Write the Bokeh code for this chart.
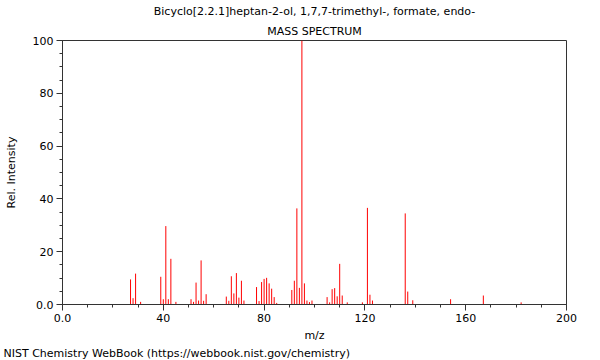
from bokeh.plotting import figure
from bokeh.models import SingleIntervalTicker, Title, Range1d
from bokeh.embed import file_html
from bokeh.resources import INLINE

# m/z values and relative intensities
mz = [27, 28, 29, 31, 39, 40, 41, 42, 43, 45, 51, 52, 53, 54, 55, 56, 57,
      65, 66, 67, 68, 69, 70, 71, 72, 77, 78, 79, 80, 81, 82, 83, 84, 85,
      91, 92, 93, 94, 95, 96, 97, 98, 99, 105, 106, 107, 108, 109, 110, 111,
      113, 119, 121, 122, 123, 136, 137, 139, 154, 167, 182]
intensity = [9.5, 2.4, 11.7, 1.0, 10.5, 2.0, 29.7, 2.0, 17.3, 1.0, 2.0, 1.0, 8.3, 1.5, 16.7, 1.4, 3.9,
             3.0, 1.4, 10.7, 4.2, 11.9, 2.6, 9.0, 1.5, 6.6, 1.3, 8.5, 9.7, 10.1, 8.0, 6.0, 2.8, 0.6,
             5.5, 9.0, 36.4, 6.3, 100.0, 8.0, 1.5, 0.9, 1.5, 2.8, 0.8, 5.8, 6.2, 3.1, 15.4, 3.4,
             0.8, 0.8, 36.6, 3.7, 1.5, 34.5, 4.9, 1.6, 2.0, 3.4, 0.8]
baseline = [0] * len(mz)

title_line1 = "Bicyclo[2.2.1]heptan-2-ol, 1,7,7-trimethyl-, formate, endo-"
title_line2 = "MASS SPECTRUM"
footer = "NIST Chemistry WebBook (https://webbook.nist.gov/chemistry)"
x_label = "m/z"
y_label = "Rel. Intensity"

FONT = "DejaVu Sans"
AX = "#333333"

p = figure(width=600, height=360, output_backend="svg", toolbar_location=None,
           x_range=Range1d(0, 200), y_range=Range1d(0, 100),
           min_border_left=62, min_border_right=34, min_border_top=40, min_border_bottom=56)
p.grid.visible = False
p.outline_line_color = AX
p.outline_line_width = 1
p.background_fill_color = "white"
p.border_fill_color = "white"

p.segment(x0=mz, y0=baseline, x1=mz, y1=intensity, line_color="#ff0000", line_width=1)

for ax in (p.xaxis[0], p.yaxis[0]):
    ax.axis_line_color = AX
    ax.major_tick_line_color = AX
    ax.minor_tick_line_color = AX
    ax.major_tick_in = 0
    ax.major_tick_out = 6
    ax.minor_tick_in = 0
    ax.minor_tick_out = 3
    ax.major_label_text_font = FONT
    ax.major_label_text_font_size = "11px"
    ax.major_label_text_color = "black"
    ax.axis_label_text_font = FONT
    ax.axis_label_text_font_size = "11px"
    ax.axis_label_text_font_style = "normal"
    ax.axis_label_text_color = "black"

p.xaxis[0].ticker = SingleIntervalTicker(interval=40, num_minor_ticks=4)
p.yaxis[0].ticker = SingleIntervalTicker(interval=20, num_minor_ticks=4)
p.xaxis[0].major_label_overrides = {0: "0.0"}
p.yaxis[0].major_label_overrides = {0: "0.0"}
p.xaxis[0].major_label_standoff = 3
p.yaxis[0].major_label_standoff = 3
p.xaxis[0].axis_label = x_label
p.xaxis[0].axis_label_standoff = 4
p.yaxis[0].axis_label = y_label
p.yaxis[0].axis_label_standoff = 12


def make_title(text, standoff, align="center", offset=0):
    return Title(text=text, align=align, offset=offset, standoff=standoff,
                 text_font=FONT, text_font_size="11px", text_font_style="normal",
                 text_color="black")


p.add_layout(make_title(title_line2, 6), "above")
p.add_layout(make_title(title_line1, 3), "above")
p.add_layout(make_title(footer, 1, align="left", offset=-59), "below")

open("out.html", "w").write(file_html(p, INLINE))
